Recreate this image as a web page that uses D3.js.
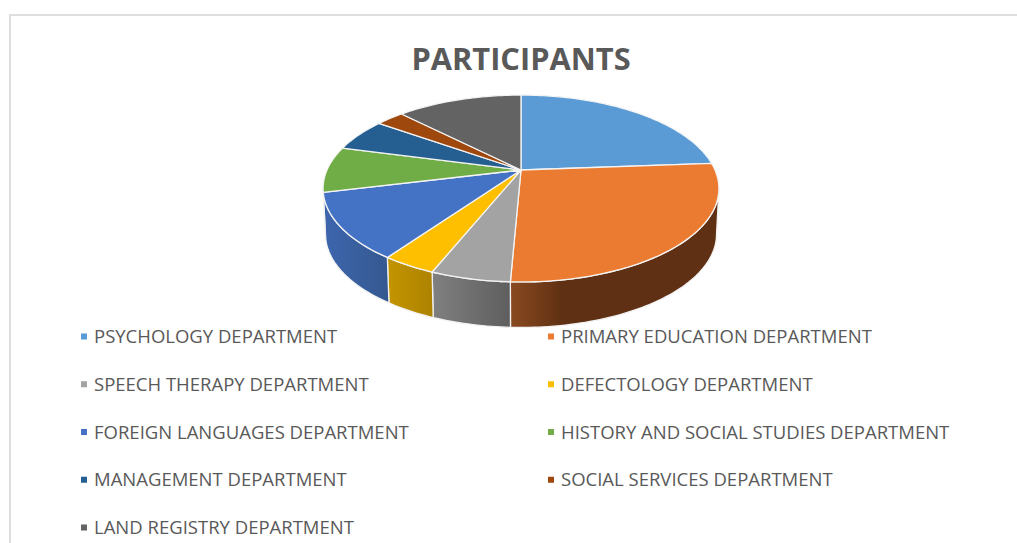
<!DOCTYPE html>
<html>
<head>
<meta charset="utf-8">
<script src="https://cdn.jsdelivr.net/npm/d3@7/dist/d3.min.js"></script>
<style>html,body{margin:0;padding:0;background:#fff;overflow:hidden}</style>
</head>
<body>
<svg id="c" width="1017" height="543"></svg>
<script>
const title = "PARTICIPANTS";
const categories = ["PSYCHOLOGY DEPARTMENT","PRIMARY EDUCATION DEPARTMENT","SPEECH THERAPY DEPARTMENT","DEFECTOLOGY DEPARTMENT","FOREIGN LANGUAGES DEPARTMENT","HISTORY AND SOCIAL STUDIES DEPARTMENT","MANAGEMENT DEPARTMENT","SOCIAL SERVICES DEPARTMENT","LAND REGISTRY DEPARTMENT"];
const values = [23.8,26.9,5.4,3.7,11.4,7.9,5.7,2.8,12.4];
const colors = ["#5b9bd5","#eb7b31","#a3a3a3","#fdbf00","#4472c4","#70ad47","#255e91","#9e480e","#636363"];
const sideFrom = ["#3a6690","#8a4a20","#808080","#c49500","#3e66ae","#4a7530","#183e60","#682f09","#424242"];
const sideTo   = ["#2f5577","#5f3013","#5e5e5e","#ad8200","#34588f","#3d6028","#133250","#562707","#363636"];

const svg = d3.select("#c");
const cx = 521, cy = 170, a = 194, b = 89.8, k = 0.198, depth = 45.5, shrink = 0.988;
const project = (t, lift) => {
  const u = Math.sin(t), v = -Math.cos(t), s = 1 / (1 - k * v);
  const w = lift ? shrink : 1;
  return [cx + a * u * s * w, cy + b * v * s + (lift ? depth : 0)];
};
const line = d3.line();
const sample = (t0, t1, lift) => {
  const n = Math.max(2, Math.ceil(Math.abs(t1 - t0) / 0.02));
  return d3.range(n + 1).map(i => project(t0 + (t1 - t0) * i / n, lift));
};
const arcs = d3.pie().sort(null).value(d => d)(values);
const frontA = Math.acos(-k), frontB = 2 * Math.PI - frontA;

// frame
svg.append("path").attr("d", "M1017,15H10V543").attr("fill", "none").attr("stroke", "#dedede").attr("stroke-width", 2);

// title
svg.append("text").attr("x", 521).attr("y", 70).attr("text-anchor", "middle")
  .attr("font-family", "'Open Sans'").attr("font-weight", 700).attr("font-size", 30.8)
  .attr("fill", "#595959").text(title);

// gradients
const defs = svg.append("defs");
arcs.forEach((d, i) => {
  const g = defs.append("linearGradient").attr("id", "g" + i);
  g.append("stop").attr("offset", "0").attr("stop-color", sideFrom[i]);
  g.append("stop").attr("offset", i === 1 ? "0.25" : "1").attr("stop-color", sideTo[i]);
});

// walls
arcs.forEach((d, i) => {
  const t0 = Math.max(d.startAngle, frontA), t1 = Math.min(d.endAngle, frontB);
  if (t1 <= t0) return;
  const pts = sample(t0, t1, false).concat(sample(t1, t0, true));
  svg.append("path").attr("d", line(pts) + "Z").attr("fill", `url(#g${i})`)
    .attr("stroke", "#f2f2f2").attr("stroke-width", 1.3).attr("stroke-linejoin", "round");
});

// top face
arcs.forEach((d, i) => {
  const pts = [[cx, cy]].concat(sample(d.startAngle, d.endAngle, false));
  svg.append("path").attr("d", line(pts) + "Z").attr("fill", colors[i])
    .attr("stroke", "#f4f4f4").attr("stroke-width", 1.3).attr("stroke-linejoin", "round");
});

// legend
const rowY = d3.scalePoint().domain(d3.range(5)).range([336.5, 527.5]);
const colX = [81, 548];
categories.forEach((name, i) => {
  const row = Math.floor(i / 2), col = i % 2, y = rowY(row);
  svg.append("rect").attr("x", colX[col]).attr("y", y - 3).attr("width", 6).attr("height", 6).attr("fill", colors[i]);
  svg.append("text").attr("x", colX[col] + 13).attr("y", y + 6.5)
    .attr("font-family", "'Open Sans'").attr("font-size", 18.5).attr("fill", "#595959").text(name);
});
</script>
</body>
</html>
